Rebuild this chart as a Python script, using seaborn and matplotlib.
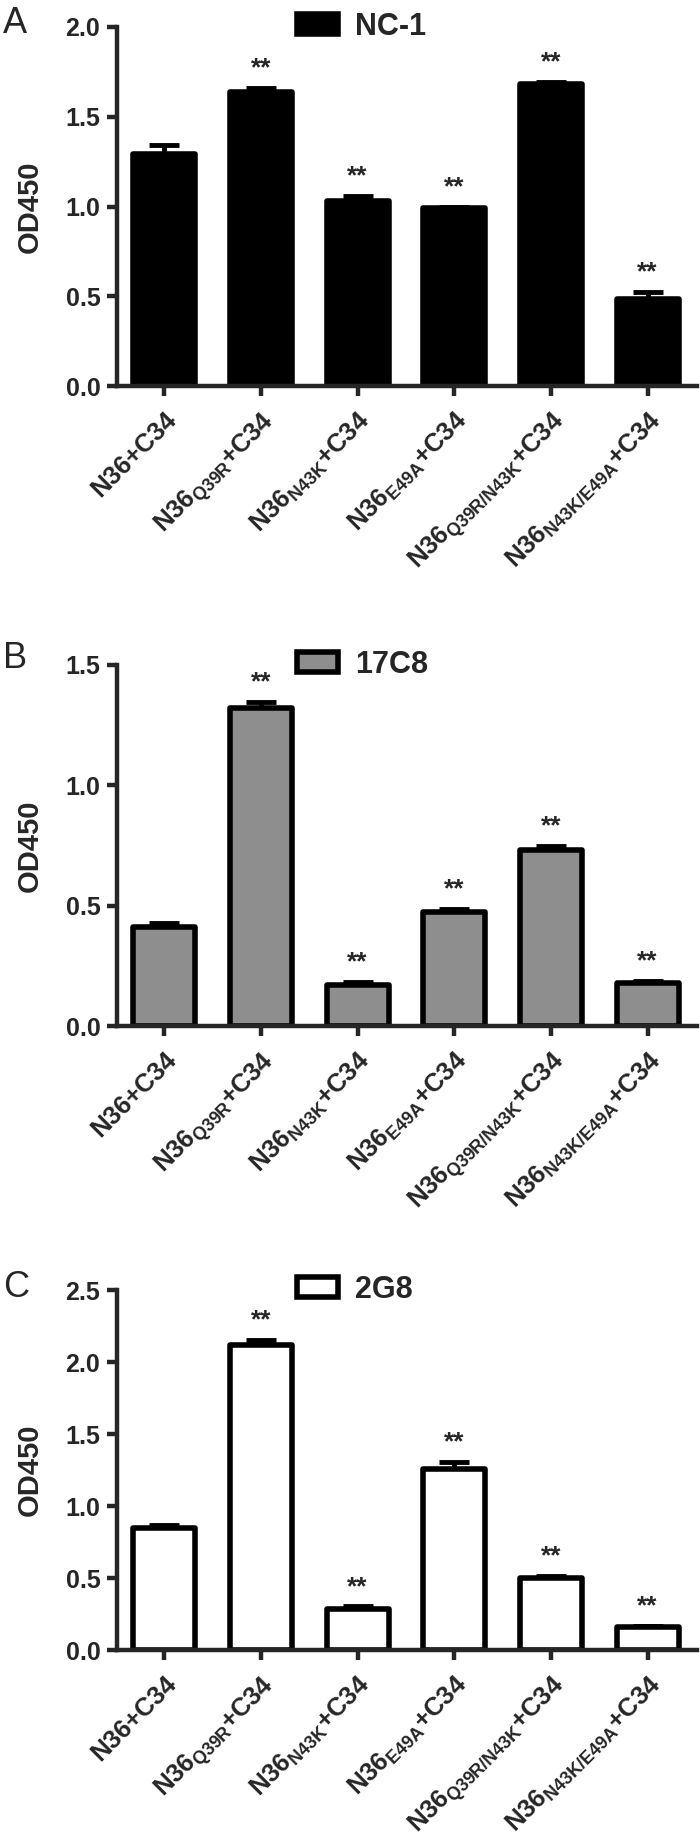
import numpy as np
import matplotlib
matplotlib.use("Agg")
import matplotlib.pyplot as plt
import seaborn as sns
from matplotlib.patches import Patch
from matplotlib.ticker import FormatStrFormatter

# data
groups = [
    "N36+C34",
    r"N36$_{\mathbf{Q39R}}$+C34",
    r"N36$_{\mathbf{N43K}}$+C34",
    r"N36$_{\mathbf{E49A}}$+C34",
    r"N36$_{\mathbf{Q39R/N43K}}$+C34",
    r"N36$_{\mathbf{N43K/E49A}}$+C34",
]
stars = ["", "**", "**", "**", "**", "**"]

nc1_mean = [1.29, 1.64, 1.03, 0.99, 1.68, 0.485]
nc1_err = [0.055, 0.02, 0.028, 0.01, 0.015, 0.04]

c17c8_mean = [0.41, 1.32, 0.172, 0.475, 0.73, 0.18]
c17c8_err = [0.018, 0.025, 0.012, 0.01, 0.018, 0.007]

g2g8_mean = [0.845, 2.12, 0.288, 1.255, 0.50, 0.162]
g2g8_err = [0.02, 0.032, 0.015, 0.05, 0.012, 0.007]

panels = [
    ("A", "NC-1", nc1_mean, nc1_err, "black", 2.0),
    ("B", "17C8", c17c8_mean, c17c8_err, "#8e8e8e", 1.5),
    ("C", "2G8", g2g8_mean, g2g8_err, "white", 2.5),
]

sns.set_style("ticks")
plt.rcParams["font.family"] = ["Liberation Sans", "DejaVu Sans"]
plt.rcParams["mathtext.fontset"] = "custom"
plt.rcParams["mathtext.rm"] = "Liberation Sans"
plt.rcParams["mathtext.bf"] = "Liberation Sans:bold"

fig = plt.figure(figsize=(7, 18.43), dpi=100)
H = 1843.0
# axes rectangles in pixels: top, bottom of plotting area
boxes = [(27, 386), (665, 1026), (1290, 1650)]
letter_base = [33, 668, 1297]

for (letter, name, means, errs, fill, top), (y0, y1), lb in zip(panels, boxes, letter_base):
    ax = fig.add_axes([117 / 700, (H - y1) / H, 580 / 700, (y1 - y0) / H])
    sns.barplot(x=groups, y=means, color=fill, saturation=1, edgecolor="black",
                linewidth=4, width=0.64, errorbar=None, ax=ax)
    for p in ax.patches:
        p.set_joinstyle("round")
    pos = np.arange(len(groups))
    _, caps, _ = ax.errorbar(pos, means, yerr=[np.zeros(len(means)), errs], fmt="none",
                             ecolor="black", elinewidth=3.5, capsize=11, capthick=3.5, zorder=3)
    caps[0].set_visible(False)
    for i, s in enumerate(stars):
        if s:
            ax.annotate(s, (i, means[i] + errs[i]), xytext=(0, 9), textcoords="offset points",
                        ha="center", va="baseline", fontsize=19, fontweight="bold")

    ax.set_xlim(-0.49, 5.51)
    ax.set_ylim(0, top)
    ax.set_yticks(np.arange(0, top + 0.01, 0.5))
    ax.yaxis.set_major_formatter(FormatStrFormatter("%.1f"))
    sns.despine(ax=ax)
    for sp in ("left", "bottom"):
        ax.spines[sp].set_linewidth(3.2)
    ax.tick_params(axis="both", length=7, width=3.2, direction="out")
    ax.tick_params(axis="y", labelsize=18, pad=5)
    ax.tick_params(axis="x", labelsize=18.5, pad=8)
    for lab in ax.get_yticklabels():
        lab.set_fontweight("bold")
    for lab in ax.get_xticklabels():
        lab.set_fontweight("bold")
        lab.set_rotation(45)
        lab.set_ha("right")
        lab.set_va("top")
        lab.set_rotation_mode("anchor")

    ax.set_ylabel("OD450", fontsize=21, fontweight="bold")
    ax.yaxis.set_label_coords(-0.126, 0.5)
    ax.set_xlabel("")

    handle = Patch(facecolor=fill, edgecolor="black", linewidth=4, joinstyle="round", label=name)
    ax.legend(handles=[handle], loc="center left", bbox_to_anchor=(0.31, 1.0), frameon=False,
              prop={"size": 22, "weight": "bold"}, handlelength=1.35, handleheight=0.64,
              handletextpad=0.55, borderpad=0, borderaxespad=0)

    fig.text(3 / 700, 1 - lb / H, letter, fontsize=26, ha="left", va="baseline")

fig.savefig("out.png", dpi=100, facecolor="white")
